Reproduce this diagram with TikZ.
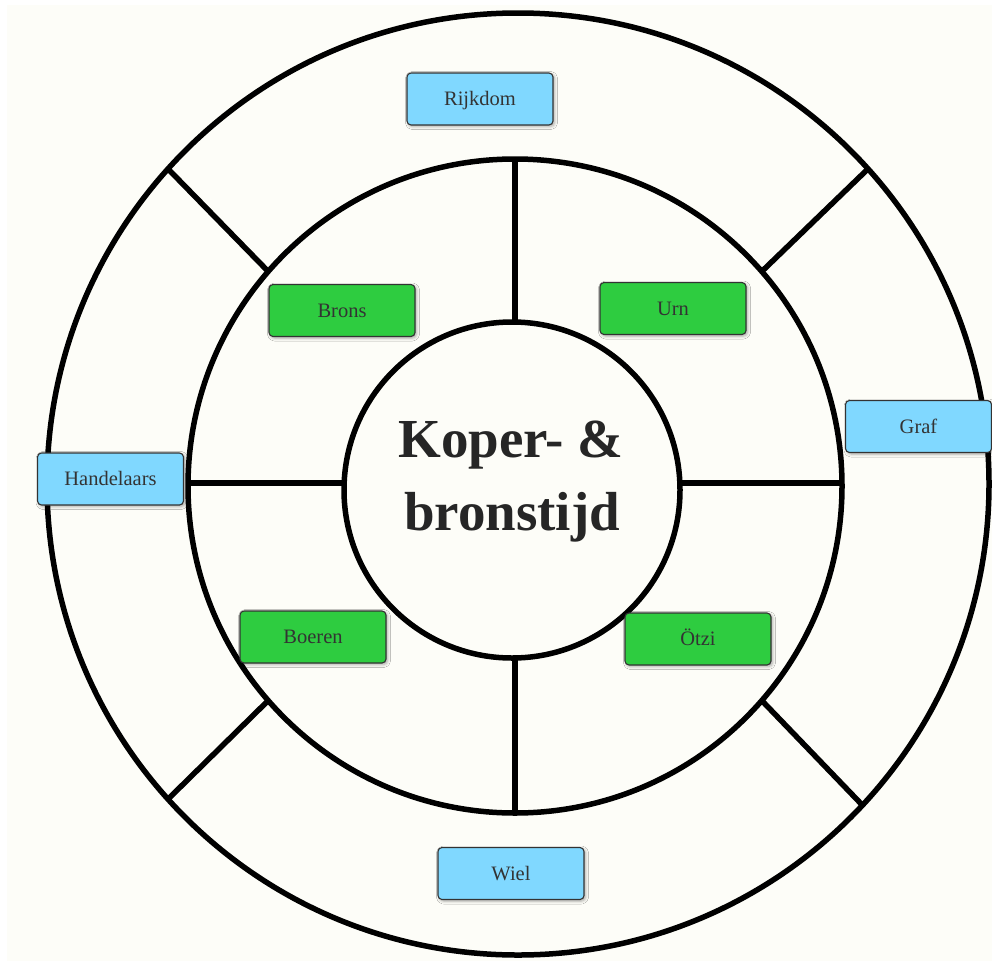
\documentclass[tikz,border=0pt]{standalone}
\usepackage{fontspec}
\setmainfont{Liberation Serif}
\usetikzlibrary{shadows.blur}
\definecolor{paper}{HTML}{FDFDF8}
\definecolor{ink}{HTML}{000000}
\definecolor{skyfill}{HTML}{80D8FF}
\definecolor{leaffill}{HTML}{2ECC40}
\definecolor{boxline}{HTML}{333333}
\definecolor{labeltext}{HTML}{333333}
\definecolor{titletext}{HTML}{262626}

\begin{document}
\begin{tikzpicture}[x=1pt,y=-1pt,
  ring/.style={circle, draw=ink, line width=5.5pt, inner sep=0pt, outer sep=0pt},
  spoke/.style={draw=ink, line width=5.5pt},
  tag/.style={rounded corners=4pt, draw=boxline, line width=1.1pt,
    minimum width=146pt, minimum height=52pt, inner sep=0pt,
    text height=13pt, text depth=0pt, text=labeltext,
    font=\fontsize{20.5}{24}\selectfont,
    blur shadow={shadow xshift=1.5pt, shadow yshift=-1.5pt,
      shadow blur radius=3pt, shadow opacity=35}},
  outertag/.style={tag, fill=skyfill},
  innertag/.style={tag, fill=leaffill},
  titletext/.style={anchor=base, text=titletext,
    font=\fontsize{55}{66}\selectfont\bfseries}
]
\useasboundingbox (0,0) rectangle (992,961);
\fill[white] (0,0) rectangle (992,961);
\fill[paper] (7,5) rectangle (992,961);

% three rings
\node[ring, minimum size=942pt] (outer) at (518,484) {};
\node[ring, minimum size=654pt] (mid) at (515,486) {};
\node[ring, minimum size=336pt] (core) at (512,490) {};

% spokes between core and middle ring
\draw[spoke] (mid.north) -- (mid.north |- core.north);
\draw[spoke] (mid.south) -- (mid.south |- core.south);
\draw[spoke] ([yshift=3pt]mid.west) -- ([yshift=3pt]mid.west -| core.west);
\draw[spoke] ([yshift=3pt]mid.east) -- ([yshift=3pt]mid.east -| core.east);

% spokes between middle and outer ring
\draw[spoke] (mid.139) -- (outer.138.5);
\draw[spoke] (mid.41.5) -- (outer.42.4);
\draw[spoke] (mid.221.7) -- (outer.222.5);
\draw[spoke] (mid.-41.7) -- (outer.-43.2);

% title
\node[titletext] (title1) at (511,457) {Koper- \&};
\node[titletext] (title2) at (512,530) {bronstijd};

% labels
\node[outertag] (rijkdom) at (480,99) {Rijkdom};
\node[innertag] (brons) at (342,310.5) {Brons};
\node[innertag] (urn) at (673,308.5) {Urn};
\node[outertag] (graf) at (918.5,426.5) {Graf};
\node[outertag] (handelaars) at (110.5,479) {Handelaars};
\node[innertag] (boeren) at (313,637) {Boeren};
\node[innertag] (otzi) at (698,639) {Ötzi};
\node[outertag] (wiel) at (511,873.5) {Wiel};
\end{tikzpicture}
\end{document}
